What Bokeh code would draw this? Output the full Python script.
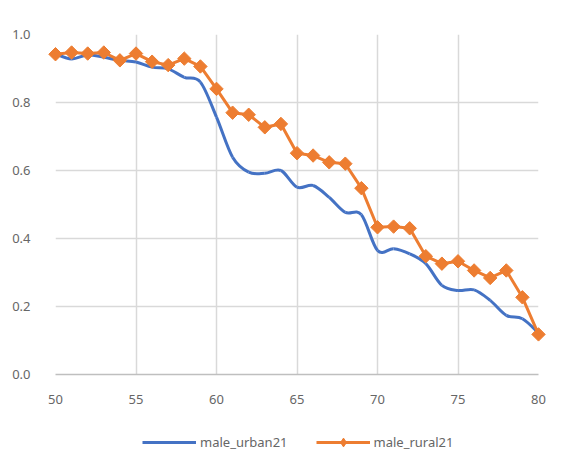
from bokeh.plotting import figure
from bokeh.layouts import column
from bokeh.models import ColumnDataSource, Legend, LegendItem, FixedTicker, CustomJSTickFormatter
from bokeh.embed import file_html
from bokeh.resources import INLINE
import math

ages = [50, 51, 52, 53, 54, 55, 56, 57, 58, 59, 60, 61, 62, 63, 64, 65,
        66, 67, 68, 69, 70, 71, 72, 73, 74, 75, 76, 77, 78, 79, 80]
male_urban21 = [0.943, 0.928, 0.940, 0.933, 0.924, 0.919, 0.904, 0.899, 0.874, 0.860,
                0.757, 0.639, 0.595, 0.592, 0.600, 0.551, 0.556, 0.521, 0.477, 0.470,
                0.365, 0.370, 0.355, 0.326, 0.262, 0.247, 0.249, 0.218, 0.174, 0.164, 0.122]
male_rural21 = [0.942, 0.947, 0.944, 0.947, 0.924, 0.944, 0.920, 0.910, 0.929, 0.906,
                0.840, 0.770, 0.764, 0.727, 0.737, 0.651, 0.644, 0.624, 0.620, 0.548,
                0.433, 0.435, 0.430, 0.348, 0.326, 0.333, 0.306, 0.284, 0.306, 0.227, 0.118]
x_ticks = [50, 55, 60, 65, 70, 75, 80]
y_ticks = [0.0, 0.2, 0.4, 0.6, 0.8, 1.0]

BLUE = "#4472C4"
ORANGE = "#ED7D31"
GRID = "#d9d9d9"
TEXT = "#666666"
FONT = "Noto Sans"

# smoothed-line bezier segments (Excel-style smoothing) built from the data
n = len(ages)
seg = dict(x0=[], y0=[], x1=[], y1=[], cx0=[], cy0=[], cx1=[], cy1=[])
for i in range(n - 1):
    p0 = (ages[max(i - 1, 0)], male_urban21[max(i - 1, 0)])
    p1 = (ages[i], male_urban21[i])
    p2 = (ages[i + 1], male_urban21[i + 1])
    p3 = (ages[min(i + 2, n - 1)], male_urban21[min(i + 2, n - 1)])
    seg["x0"].append(p1[0]); seg["y0"].append(p1[1])
    seg["x1"].append(p2[0]); seg["y1"].append(p2[1])
    seg["cx0"].append(p1[0] + (p2[0] - p0[0]) / 6)
    seg["cy0"].append(p1[1] + (p2[1] - p0[1]) / 6)
    seg["cx1"].append(p2[0] - (p3[0] - p1[0]) / 6)
    seg["cy1"].append(p2[1] - (p3[1] - p1[1]) / 6)

# ---- main chart ----
p = figure(frame_width=483, frame_height=340,
           x_range=(50, 80), y_range=(0, 1.0),
           output_backend="svg", toolbar_location=None,
           min_border_left=55, min_border_top=34, min_border_right=25, min_border_bottom=40)
p.outline_line_color = None
p.background_fill_color = "white"
p.border_fill_color = "white"

p.xaxis.ticker = FixedTicker(ticks=x_ticks)
p.yaxis.ticker = FixedTicker(ticks=y_ticks)
p.yaxis.formatter = CustomJSTickFormatter(code="return tick.toFixed(1)")
for ax in (p.xaxis[0], p.yaxis[0]):
    ax.major_tick_line_color = None
    ax.minor_tick_line_color = None
    ax.major_label_text_font = FONT
    ax.major_label_text_font_size = "13px"
    ax.major_label_text_color = TEXT
p.xaxis.major_label_standoff = 14
p.yaxis.major_label_standoff = 19
p.yaxis.axis_line_color = None
p.xaxis.axis_line_color = "#bfbfbf"
p.xaxis.axis_line_width = 1.5
p.xgrid.grid_line_color = GRID
p.ygrid.grid_line_color = GRID
p.xgrid.grid_line_width = 1.5
p.ygrid.grid_line_width = 1.5

src = ColumnDataSource(seg)
p.bezier("x0", "y0", "x1", "y1", "cx0", "cy0", "cx1", "cy1", source=src,
         line_color=BLUE, line_width=3, level="overlay")
p.line(ages, male_rural21, line_color=ORANGE, line_width=3, level="overlay")
p.scatter(ages, male_rural21, marker="square", size=9.5, angle=math.pi / 4,
          fill_color=ORANGE, line_color=ORANGE, level="overlay")

# ---- legend strip (its renderers lie outside its view; only the legend shows) ----
lg = figure(frame_width=563, frame_height=52, x_range=(0, 1), y_range=(0, 1),
            x_axis_type=None, y_axis_type=None, output_backend="svg", toolbar_location=None,
            min_border_left=0, min_border_right=0, min_border_top=0, min_border_bottom=0)
lg.outline_line_color = None
lg.xgrid.visible = False
lg.ygrid.visible = False
l_urban = lg.bezier("x0", "y0", "x1", "y1", "cx0", "cy0", "cx1", "cy1", source=src,
                    line_color=BLUE, line_width=3)
l_rural_line = lg.line(ages, male_rural21, line_color=ORANGE, line_width=3)
l_rural_dia = lg.scatter(ages, male_rural21, marker="diamond", size=10,
                         fill_color=ORANGE, line_color=ORANGE)

legend = Legend(items=[LegendItem(label="male_urban21", renderers=[l_urban]),
                       LegendItem(label="male_rural21", renderers=[l_rural_line, l_rural_dia])],
                orientation="horizontal", location=(142, 13),
                glyph_width=54, glyph_height=22, label_standoff=4, spacing=28,
                padding=0, margin=0, border_line_color=None, background_fill_alpha=0,
                label_text_font=FONT, label_text_font_size="13px", label_text_color=TEXT)
lg.add_layout(legend, "center")

layout = column(p, lg, spacing=0)
open("out.html", "w").write(file_html(layout, INLINE))
